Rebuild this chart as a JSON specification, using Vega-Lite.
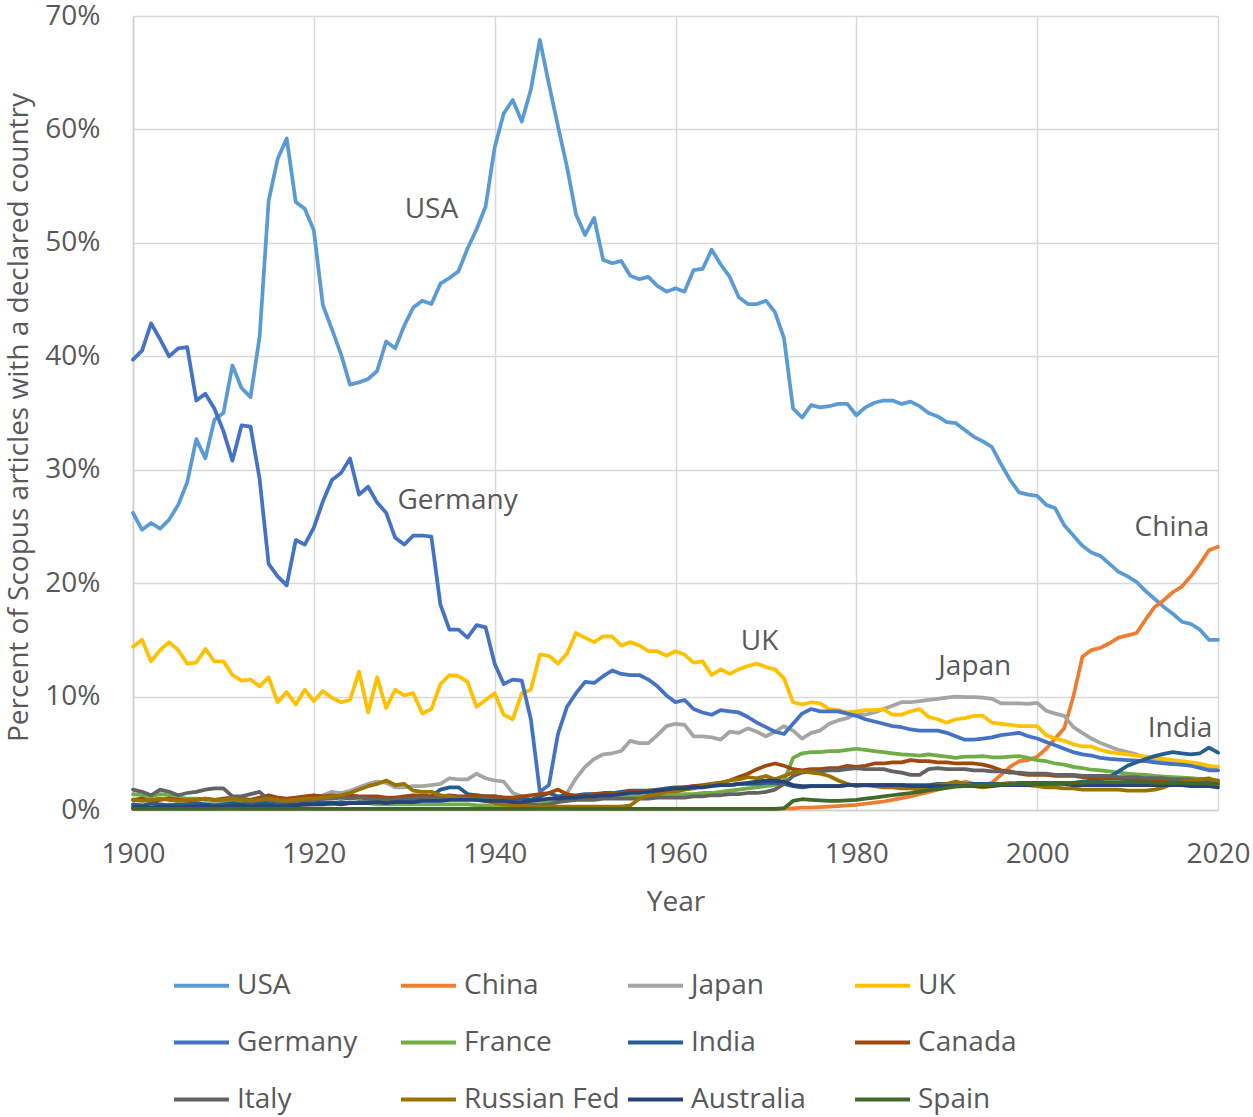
{
"$schema": "https://vega.github.io/schema/vega-lite/v6.json",
"width": 1085, "height": 794,
"autosize": {"type": "none"},
"padding": {"left": 133, "top": 16, "right": 35, "bottom": 307},
"background": "white",
"config": {
  "font": "Open Sans",
  "view": {"stroke": null},
  "axis": {"labelFont": "Open Sans", "labelFontSize": 28, "labelColor": "#595959", "titleFont": "Open Sans", "titleFontSize": 28, "titleFontWeight": "normal", "titleColor": "#595959", "gridColor": "#D9D9D9", "gridWidth": 1.5, "domainColor": "#D0D0D0", "domainWidth": 1.5, "ticks": false, "tickSize": 0, "labelFlush": false}
},
"layer": [
{
"data": {"values": [
{"Year":1900,"USA":26.2,"China":0.1,"Japan":0.4,"UK":14.4,"Germany":39.7,"France":1.4,"India":0.5,"Canada":0.9,"Italy":1.8,"Russian Fed":0.9,"Australia":0.2,"Spain":0.1},
{"Year":1901,"USA":24.7,"China":0.1,"Japan":0.3,"UK":15.0,"Germany":40.5,"France":1.3,"India":0.4,"Canada":1.0,"Italy":1.6,"Russian Fed":0.8,"Australia":0.3,"Spain":0.1},
{"Year":1902,"USA":25.3,"China":0.1,"Japan":0.4,"UK":13.1,"Germany":42.9,"France":1.2,"India":0.6,"Canada":0.8,"Italy":1.3,"Russian Fed":0.9,"Australia":0.2,"Spain":0.1},
{"Year":1903,"USA":24.8,"China":0.1,"Japan":0.3,"UK":14.1,"Germany":41.5,"France":1.4,"India":0.5,"Canada":0.9,"Italy":1.8,"Russian Fed":1.0,"Australia":0.3,"Spain":0.1},
{"Year":1904,"USA":25.6,"China":0.1,"Japan":0.5,"UK":14.8,"Germany":40.0,"France":1.3,"India":0.4,"Canada":1.0,"Italy":1.6,"Russian Fed":0.9,"Australia":0.3,"Spain":0.1},
{"Year":1905,"USA":26.9,"China":0.1,"Japan":0.4,"UK":14.1,"Germany":40.7,"France":1.1,"India":0.5,"Canada":0.9,"Italy":1.3,"Russian Fed":0.8,"Australia":0.2,"Spain":0.1},
{"Year":1906,"USA":28.9,"China":0.1,"Japan":0.5,"UK":12.9,"Germany":40.8,"France":1.0,"India":0.5,"Canada":0.8,"Italy":1.5,"Russian Fed":0.9,"Australia":0.3,"Spain":0.1},
{"Year":1907,"USA":32.7,"China":0.1,"Japan":0.4,"UK":13.0,"Germany":36.1,"France":1.0,"India":0.6,"Canada":0.9,"Italy":1.6,"Russian Fed":0.9,"Australia":0.3,"Spain":0.1},
{"Year":1908,"USA":31.0,"China":0.1,"Japan":0.5,"UK":14.2,"Germany":36.7,"France":0.9,"India":0.5,"Canada":1.0,"Italy":1.8,"Russian Fed":1.0,"Australia":0.4,"Spain":0.1},
{"Year":1909,"USA":34.4,"China":0.1,"Japan":0.6,"UK":13.1,"Germany":35.4,"France":0.9,"India":0.4,"Canada":0.9,"Italy":1.9,"Russian Fed":0.9,"Australia":0.3,"Spain":0.1},
{"Year":1910,"USA":35.0,"China":0.2,"Japan":0.5,"UK":13.1,"Germany":33.4,"France":0.8,"India":0.5,"Canada":1.0,"Italy":1.9,"Russian Fed":0.9,"Australia":0.3,"Spain":0.1},
{"Year":1911,"USA":39.2,"China":0.2,"Japan":0.6,"UK":11.9,"Germany":30.8,"France":0.8,"India":0.6,"Canada":1.1,"Italy":1.2,"Russian Fed":1.0,"Australia":0.4,"Spain":0.1},
{"Year":1912,"USA":37.2,"China":0.1,"Japan":0.5,"UK":11.4,"Germany":33.9,"France":0.7,"India":0.5,"Canada":1.0,"Italy":1.2,"Russian Fed":0.9,"Australia":0.4,"Spain":0.1},
{"Year":1913,"USA":36.4,"China":0.1,"Japan":0.6,"UK":11.5,"Germany":33.8,"France":0.7,"India":0.6,"Canada":0.9,"Italy":1.4,"Russian Fed":0.8,"Australia":0.3,"Spain":0.1},
{"Year":1914,"USA":41.7,"China":0.1,"Japan":0.7,"UK":10.9,"Germany":29.2,"France":0.6,"India":0.7,"Canada":1.1,"Italy":1.6,"Russian Fed":0.9,"Australia":0.4,"Spain":0.1},
{"Year":1915,"USA":53.7,"China":0.1,"Japan":0.5,"UK":11.7,"Germany":21.7,"France":0.5,"India":0.6,"Canada":1.3,"Italy":0.9,"Russian Fed":1.0,"Australia":0.4,"Spain":0.1},
{"Year":1916,"USA":57.4,"China":0.1,"Japan":0.6,"UK":9.5,"Germany":20.6,"France":0.4,"India":0.5,"Canada":1.1,"Italy":0.8,"Russian Fed":0.9,"Australia":0.3,"Spain":0.1},
{"Year":1917,"USA":59.2,"China":0.1,"Japan":0.7,"UK":10.4,"Germany":19.8,"France":0.4,"India":0.4,"Canada":1.0,"Italy":0.7,"Russian Fed":0.8,"Australia":0.4,"Spain":0.1},
{"Year":1918,"USA":53.6,"China":0.1,"Japan":0.8,"UK":9.3,"Germany":23.8,"France":0.4,"India":0.5,"Canada":1.1,"Italy":0.8,"Russian Fed":0.9,"Australia":0.4,"Spain":0.1},
{"Year":1919,"USA":53.0,"China":0.2,"Japan":0.9,"UK":10.6,"Germany":23.4,"France":0.5,"India":0.6,"Canada":1.2,"Italy":0.9,"Russian Fed":1.0,"Australia":0.5,"Spain":0.1},
{"Year":1920,"USA":51.1,"China":0.1,"Japan":1.0,"UK":9.6,"Germany":24.9,"France":0.5,"India":0.6,"Canada":1.3,"Italy":0.9,"Russian Fed":1.0,"Australia":0.5,"Spain":0.1},
{"Year":1921,"USA":44.5,"China":0.1,"Japan":1.3,"UK":10.5,"Germany":27.2,"France":0.5,"India":0.7,"Canada":1.2,"Italy":1.0,"Russian Fed":1.1,"Australia":0.5,"Spain":0.1},
{"Year":1922,"USA":42.4,"China":0.1,"Japan":1.6,"UK":9.9,"Germany":29.1,"France":0.5,"India":0.6,"Canada":1.3,"Italy":1.0,"Russian Fed":1.2,"Australia":0.6,"Spain":0.1},
{"Year":1923,"USA":40.2,"China":0.1,"Japan":1.5,"UK":9.5,"Germany":29.7,"France":0.6,"India":0.7,"Canada":1.2,"Italy":1.1,"Russian Fed":1.3,"Australia":0.5,"Spain":0.1},
{"Year":1924,"USA":37.5,"China":0.1,"Japan":1.7,"UK":9.7,"Germany":31.0,"France":0.6,"India":0.6,"Canada":1.3,"Italy":1.0,"Russian Fed":1.5,"Australia":0.6,"Spain":0.1},
{"Year":1925,"USA":37.7,"China":0.1,"Japan":2.0,"UK":12.2,"Germany":27.8,"France":0.6,"India":0.7,"Canada":1.2,"Italy":1.1,"Russian Fed":1.8,"Australia":0.6,"Spain":0.1},
{"Year":1926,"USA":38.0,"China":0.1,"Japan":2.3,"UK":8.6,"Germany":28.5,"France":0.6,"India":0.7,"Canada":1.2,"Italy":1.0,"Russian Fed":2.1,"Australia":0.6,"Spain":0.1},
{"Year":1927,"USA":38.7,"China":0.1,"Japan":2.5,"UK":11.7,"Germany":27.1,"France":0.5,"India":0.8,"Canada":1.2,"Italy":0.9,"Russian Fed":2.3,"Australia":0.7,"Spain":0.1},
{"Year":1928,"USA":41.3,"China":0.1,"Japan":2.4,"UK":9.0,"Germany":26.2,"France":0.5,"India":0.8,"Canada":1.1,"Italy":0.9,"Russian Fed":2.6,"Australia":0.6,"Spain":0.1},
{"Year":1929,"USA":40.7,"China":0.1,"Japan":2.0,"UK":10.6,"Germany":24.0,"France":0.5,"India":0.9,"Canada":1.1,"Italy":0.9,"Russian Fed":2.2,"Australia":0.7,"Spain":0.1},
{"Year":1930,"USA":42.7,"China":0.1,"Japan":2.0,"UK":10.1,"Germany":23.4,"France":0.5,"India":0.9,"Canada":1.2,"Italy":1.0,"Russian Fed":2.3,"Australia":0.7,"Spain":0.1},
{"Year":1931,"USA":44.3,"China":0.1,"Japan":2.1,"UK":10.3,"Germany":24.2,"France":0.5,"India":1.0,"Canada":1.3,"Italy":1.0,"Russian Fed":1.7,"Australia":0.7,"Spain":0.1},
{"Year":1932,"USA":44.9,"China":0.1,"Japan":2.1,"UK":8.5,"Germany":24.2,"France":0.5,"India":1.1,"Canada":1.3,"Italy":1.1,"Russian Fed":1.6,"Australia":0.8,"Spain":0.1},
{"Year":1933,"USA":44.6,"China":0.1,"Japan":2.2,"UK":8.9,"Germany":24.1,"France":0.5,"India":1.2,"Canada":1.2,"Italy":1.0,"Russian Fed":1.6,"Australia":0.8,"Spain":0.1},
{"Year":1934,"USA":46.4,"China":0.1,"Japan":2.3,"UK":11.1,"Germany":18.1,"France":0.5,"India":1.8,"Canada":1.2,"Italy":1.1,"Russian Fed":1.3,"Australia":0.8,"Spain":0.1},
{"Year":1935,"USA":46.9,"China":0.1,"Japan":2.8,"UK":11.9,"Germany":15.9,"France":0.5,"India":2.0,"Canada":1.3,"Italy":1.2,"Russian Fed":1.2,"Australia":0.9,"Spain":0.1},
{"Year":1936,"USA":47.5,"China":0.1,"Japan":2.7,"UK":11.8,"Germany":15.9,"France":0.5,"India":2.0,"Canada":1.2,"Italy":1.1,"Russian Fed":1.0,"Australia":0.9,"Spain":0.1},
{"Year":1937,"USA":49.5,"China":0.1,"Japan":2.7,"UK":11.3,"Germany":15.2,"France":0.5,"India":1.4,"Canada":1.2,"Italy":1.0,"Russian Fed":1.0,"Australia":0.9,"Spain":0.1},
{"Year":1938,"USA":51.2,"China":0.1,"Japan":3.2,"UK":9.1,"Germany":16.3,"France":0.4,"India":1.3,"Canada":1.3,"Italy":1.0,"Russian Fed":0.9,"Australia":0.9,"Spain":0.1},
{"Year":1939,"USA":53.2,"China":0.1,"Japan":2.8,"UK":9.7,"Germany":16.1,"France":0.4,"India":1.2,"Canada":1.2,"Italy":1.0,"Russian Fed":0.8,"Australia":0.8,"Spain":0.1},
{"Year":1940,"USA":58.4,"China":0.1,"Japan":2.6,"UK":10.3,"Germany":12.9,"France":0.3,"India":1.2,"Canada":1.2,"Italy":0.9,"Russian Fed":0.6,"Australia":0.8,"Spain":0.1},
{"Year":1941,"USA":61.4,"China":0.1,"Japan":2.5,"UK":8.4,"Germany":11.1,"France":0.3,"India":1.1,"Canada":1.1,"Italy":0.8,"Russian Fed":0.5,"Australia":0.8,"Spain":0.1},
{"Year":1942,"USA":62.6,"China":0.1,"Japan":1.5,"UK":8.0,"Germany":11.5,"France":0.3,"India":1.0,"Canada":1.1,"Italy":0.7,"Russian Fed":0.4,"Australia":0.7,"Spain":0.1},
{"Year":1943,"USA":60.7,"China":0.1,"Japan":1.2,"UK":10.3,"Germany":11.4,"France":0.3,"India":1.0,"Canada":1.2,"Italy":0.6,"Russian Fed":0.4,"Australia":0.7,"Spain":0.1},
{"Year":1944,"USA":63.5,"China":0.1,"Japan":0.9,"UK":10.6,"Germany":8.0,"France":0.3,"India":0.9,"Canada":1.3,"Italy":0.5,"Russian Fed":0.3,"Australia":0.8,"Spain":0.1},
{"Year":1945,"USA":67.9,"China":0.2,"Japan":0.6,"UK":13.7,"Germany":1.6,"France":0.5,"India":1.2,"Canada":1.4,"Italy":0.4,"Russian Fed":0.3,"Australia":0.9,"Spain":0.1},
{"Year":1946,"USA":64.0,"China":0.2,"Japan":0.5,"UK":13.6,"Germany":2.2,"France":0.8,"India":1.5,"Canada":1.5,"Italy":0.5,"Russian Fed":0.3,"Australia":1.0,"Spain":0.1},
{"Year":1947,"USA":60.3,"China":0.2,"Japan":0.8,"UK":12.9,"Germany":6.7,"France":0.9,"India":1.2,"Canada":1.8,"Italy":0.7,"Russian Fed":0.3,"Australia":1.0,"Spain":0.1},
{"Year":1948,"USA":56.7,"China":0.2,"Japan":1.5,"UK":13.8,"Germany":9.1,"France":0.9,"India":1.3,"Canada":1.4,"Italy":0.8,"Russian Fed":0.3,"Australia":1.1,"Spain":0.1},
{"Year":1949,"USA":52.5,"China":0.1,"Japan":2.8,"UK":15.6,"Germany":10.3,"France":1.0,"India":1.3,"Canada":1.2,"Italy":0.9,"Russian Fed":0.3,"Australia":1.1,"Spain":0.1},
{"Year":1950,"USA":50.7,"China":0.1,"Japan":3.8,"UK":15.2,"Germany":11.3,"France":1.0,"India":1.4,"Canada":1.3,"Italy":0.9,"Russian Fed":0.3,"Australia":1.2,"Spain":0.1},
{"Year":1951,"USA":52.2,"China":0.1,"Japan":4.5,"UK":14.8,"Germany":11.2,"France":1.1,"India":1.4,"Canada":1.4,"Italy":0.9,"Russian Fed":0.3,"Australia":1.2,"Spain":0.1},
{"Year":1952,"USA":48.5,"China":0.1,"Japan":4.9,"UK":15.3,"Germany":11.8,"France":1.1,"India":1.5,"Canada":1.4,"Italy":1.0,"Russian Fed":0.3,"Australia":1.3,"Spain":0.1},
{"Year":1953,"USA":48.2,"China":0.1,"Japan":5.0,"UK":15.3,"Germany":12.3,"France":1.1,"India":1.5,"Canada":1.5,"Italy":1.0,"Russian Fed":0.3,"Australia":1.3,"Spain":0.1},
{"Year":1954,"USA":48.4,"China":0.1,"Japan":5.2,"UK":14.5,"Germany":12.0,"France":1.2,"India":1.6,"Canada":1.5,"Italy":1.0,"Russian Fed":0.3,"Australia":1.4,"Spain":0.1},
{"Year":1955,"USA":47.1,"China":0.1,"Japan":6.1,"UK":14.8,"Germany":11.9,"France":1.2,"India":1.7,"Canada":1.6,"Italy":1.0,"Russian Fed":0.4,"Australia":1.5,"Spain":0.1},
{"Year":1956,"USA":46.8,"China":0.1,"Japan":5.9,"UK":14.5,"Germany":11.9,"France":1.2,"India":1.7,"Canada":1.6,"Italy":1.0,"Russian Fed":1.0,"Australia":1.5,"Spain":0.1},
{"Year":1957,"USA":47.0,"China":0.1,"Japan":5.9,"UK":14.0,"Germany":11.5,"France":1.2,"India":1.7,"Canada":1.7,"Italy":1.0,"Russian Fed":1.3,"Australia":1.6,"Spain":0.1},
{"Year":1958,"USA":46.2,"China":0.1,"Japan":6.6,"UK":14.0,"Germany":10.9,"France":1.3,"India":1.8,"Canada":1.7,"Italy":1.1,"Russian Fed":1.4,"Australia":1.7,"Spain":0.1},
{"Year":1959,"USA":45.7,"China":0.1,"Japan":7.4,"UK":13.6,"Germany":10.1,"France":1.3,"India":1.9,"Canada":1.8,"Italy":1.1,"Russian Fed":1.6,"Australia":1.8,"Spain":0.1},
{"Year":1960,"USA":46.0,"China":0.1,"Japan":7.6,"UK":14.0,"Germany":9.5,"France":1.3,"India":2.0,"Canada":1.9,"Italy":1.1,"Russian Fed":1.6,"Australia":1.9,"Spain":0.1},
{"Year":1961,"USA":45.7,"China":0.1,"Japan":7.5,"UK":13.7,"Germany":9.7,"France":1.4,"India":2.0,"Canada":2.0,"Italy":1.1,"Russian Fed":1.8,"Australia":1.9,"Spain":0.1},
{"Year":1962,"USA":47.6,"China":0.1,"Japan":6.5,"UK":13.0,"Germany":8.9,"France":1.4,"India":2.1,"Canada":2.1,"Italy":1.2,"Russian Fed":1.9,"Australia":2.0,"Spain":0.1},
{"Year":1963,"USA":47.7,"China":0.1,"Japan":6.5,"UK":13.1,"Germany":8.6,"France":1.5,"India":2.1,"Canada":2.2,"Italy":1.2,"Russian Fed":2.1,"Australia":2.0,"Spain":0.1},
{"Year":1964,"USA":49.4,"China":0.1,"Japan":6.4,"UK":11.9,"Germany":8.4,"France":1.5,"India":2.2,"Canada":2.3,"Italy":1.3,"Russian Fed":2.3,"Australia":2.1,"Spain":0.1},
{"Year":1965,"USA":48.1,"China":0.1,"Japan":6.2,"UK":12.4,"Germany":8.8,"France":1.6,"India":2.2,"Canada":2.4,"Italy":1.3,"Russian Fed":2.4,"Australia":2.2,"Spain":0.1},
{"Year":1966,"USA":47.0,"China":0.1,"Japan":6.9,"UK":12.0,"Germany":8.7,"France":1.7,"India":2.2,"Canada":2.6,"Italy":1.4,"Russian Fed":2.6,"Australia":2.2,"Spain":0.1},
{"Year":1967,"USA":45.2,"China":0.1,"Japan":6.8,"UK":12.4,"Germany":8.6,"France":1.8,"India":2.3,"Canada":2.9,"Italy":1.4,"Russian Fed":2.7,"Australia":2.3,"Spain":0.1},
{"Year":1968,"USA":44.6,"China":0.1,"Japan":7.2,"UK":12.7,"Germany":8.2,"France":1.9,"India":2.3,"Canada":3.2,"Italy":1.5,"Russian Fed":2.9,"Australia":2.4,"Spain":0.1},
{"Year":1969,"USA":44.6,"China":0.1,"Japan":6.9,"UK":12.9,"Germany":7.7,"France":2.0,"India":2.3,"Canada":3.6,"Italy":1.5,"Russian Fed":2.8,"Australia":2.5,"Spain":0.1},
{"Year":1970,"USA":44.9,"China":0.1,"Japan":6.5,"UK":12.6,"Germany":7.3,"France":2.1,"India":2.4,"Canada":3.9,"Italy":1.6,"Russian Fed":3.0,"Australia":2.6,"Spain":0.1},
{"Year":1971,"USA":43.9,"China":0.1,"Japan":6.9,"UK":12.4,"Germany":6.9,"France":2.2,"India":2.4,"Canada":4.1,"Italy":1.8,"Russian Fed":2.7,"Australia":2.6,"Spain":0.1},
{"Year":1972,"USA":41.6,"China":0.15,"Japan":7.4,"UK":11.6,"Germany":6.7,"France":2.5,"India":2.3,"Canada":3.9,"Italy":2.3,"Russian Fed":3.0,"Australia":2.5,"Spain":0.15},
{"Year":1973,"USA":35.4,"China":0.15,"Japan":7.0,"UK":9.5,"Germany":7.6,"France":4.6,"India":2.1,"Canada":3.6,"Italy":3.0,"Russian Fed":3.3,"Australia":2.2,"Spain":0.8},
{"Year":1974,"USA":34.6,"China":0.2,"Japan":6.3,"UK":9.3,"Germany":8.5,"France":5.0,"India":2.0,"Canada":3.5,"Italy":3.3,"Russian Fed":3.4,"Australia":2.1,"Spain":0.95},
{"Year":1975,"USA":35.7,"China":0.2,"Japan":6.8,"UK":9.5,"Germany":8.9,"France":5.1,"India":2.1,"Canada":3.6,"Italy":3.4,"Russian Fed":3.3,"Australia":2.1,"Spain":0.9},
{"Year":1976,"USA":35.5,"China":0.25,"Japan":7.0,"UK":9.4,"Germany":8.7,"France":5.1,"India":2.1,"Canada":3.6,"Italy":3.4,"Russian Fed":3.2,"Australia":2.1,"Spain":0.85},
{"Year":1977,"USA":35.6,"China":0.3,"Japan":7.6,"UK":8.9,"Germany":8.7,"France":5.2,"India":2.1,"Canada":3.7,"Italy":3.5,"Russian Fed":3.0,"Australia":2.1,"Spain":0.8},
{"Year":1978,"USA":35.8,"China":0.35,"Japan":7.9,"UK":8.8,"Germany":8.7,"France":5.2,"India":2.1,"Canada":3.7,"Italy":3.5,"Russian Fed":2.6,"Australia":2.1,"Spain":0.8},
{"Year":1979,"USA":35.8,"China":0.4,"Japan":8.1,"UK":8.6,"Germany":8.5,"France":5.3,"India":2.2,"Canada":3.9,"Italy":3.6,"Russian Fed":2.3,"Australia":2.2,"Spain":0.85},
{"Year":1980,"USA":34.8,"China":0.45,"Japan":8.5,"UK":8.7,"Germany":8.3,"France":5.4,"India":2.2,"Canada":3.8,"Italy":3.7,"Russian Fed":2.1,"Australia":2.2,"Spain":0.9},
{"Year":1981,"USA":35.5,"China":0.55,"Japan":8.4,"UK":8.8,"Germany":8.0,"France":5.3,"India":2.2,"Canada":3.9,"Italy":3.6,"Russian Fed":2.2,"Australia":2.2,"Spain":1.0},
{"Year":1982,"USA":35.9,"China":0.65,"Japan":8.6,"UK":8.8,"Germany":7.8,"France":5.2,"India":2.2,"Canada":4.1,"Italy":3.6,"Russian Fed":2.1,"Australia":2.2,"Spain":1.1},
{"Year":1983,"USA":36.1,"China":0.75,"Japan":8.9,"UK":8.9,"Germany":7.6,"France":5.1,"India":2.2,"Canada":4.1,"Italy":3.6,"Russian Fed":2.0,"Australia":2.2,"Spain":1.2},
{"Year":1984,"USA":36.1,"China":0.9,"Japan":9.2,"UK":8.4,"Germany":7.4,"France":5.0,"India":2.2,"Canada":4.2,"Italy":3.4,"Russian Fed":2.0,"Australia":2.2,"Spain":1.3},
{"Year":1985,"USA":35.8,"China":1.05,"Japan":9.5,"UK":8.4,"Germany":7.3,"France":4.9,"India":2.2,"Canada":4.2,"Italy":3.3,"Russian Fed":1.9,"Australia":2.2,"Spain":1.4},
{"Year":1986,"USA":36.0,"China":1.2,"Japan":9.5,"UK":8.7,"Germany":7.1,"France":4.85,"India":2.2,"Canada":4.4,"Italy":3.1,"Russian Fed":1.9,"Australia":2.1,"Spain":1.5},
{"Year":1987,"USA":35.6,"China":1.4,"Japan":9.6,"UK":8.9,"Germany":7.0,"France":4.8,"India":2.2,"Canada":4.3,"Italy":3.1,"Russian Fed":1.8,"Australia":2.1,"Spain":1.6},
{"Year":1988,"USA":35.0,"China":1.6,"Japan":9.7,"UK":8.2,"Germany":7.0,"France":4.9,"India":2.2,"Canada":4.3,"Italy":3.6,"Russian Fed":1.9,"Australia":2.1,"Spain":1.75},
{"Year":1989,"USA":34.7,"China":1.8,"Japan":9.8,"UK":8.0,"Germany":7.0,"France":4.8,"India":2.3,"Canada":4.2,"Italy":3.7,"Russian Fed":2.2,"Australia":2.1,"Spain":1.85},
{"Year":1990,"USA":34.2,"China":2.0,"Japan":9.9,"UK":7.7,"Germany":6.8,"France":4.7,"India":2.3,"Canada":4.2,"Italy":3.6,"Russian Fed":2.3,"Australia":2.1,"Spain":1.95},
{"Year":1991,"USA":34.1,"China":2.2,"Japan":10.0,"UK":8.0,"Germany":6.5,"France":4.6,"India":2.3,"Canada":4.1,"Italy":3.6,"Russian Fed":2.5,"Australia":2.1,"Spain":2.05},
{"Year":1992,"USA":33.5,"China":2.5,"Japan":9.95,"UK":8.1,"Germany":6.2,"France":4.7,"India":2.3,"Canada":4.1,"Italy":3.6,"Russian Fed":2.3,"Australia":2.1,"Spain":2.1},
{"Year":1993,"USA":32.9,"China":2.3,"Japan":9.95,"UK":8.3,"Germany":6.2,"France":4.7,"India":2.3,"Canada":4.1,"Italy":3.5,"Russian Fed":2.1,"Australia":2.1,"Spain":2.15},
{"Year":1994,"USA":32.5,"China":2.2,"Japan":9.9,"UK":8.3,"Germany":6.3,"France":4.75,"India":2.3,"Canada":4.0,"Italy":3.5,"Russian Fed":2.0,"Australia":2.1,"Spain":2.2},
{"Year":1995,"USA":32.0,"China":2.4,"Japan":9.8,"UK":7.7,"Germany":6.4,"France":4.65,"India":2.3,"Canada":3.8,"Italy":3.4,"Russian Fed":2.1,"Australia":2.1,"Spain":2.2},
{"Year":1996,"USA":30.5,"China":3.1,"Japan":9.4,"UK":7.6,"Germany":6.6,"France":4.65,"India":2.3,"Canada":3.5,"Italy":3.4,"Russian Fed":2.3,"Australia":2.2,"Spain":2.25},
{"Year":1997,"USA":29.1,"China":3.8,"Japan":9.4,"UK":7.5,"Germany":6.7,"France":4.7,"India":2.3,"Canada":3.4,"Italy":3.3,"Russian Fed":2.4,"Australia":2.2,"Spain":2.25},
{"Year":1998,"USA":28.0,"China":4.3,"Japan":9.4,"UK":7.4,"Germany":6.8,"France":4.75,"India":2.4,"Canada":3.2,"Italy":3.3,"Russian Fed":2.3,"Australia":2.2,"Spain":2.3},
{"Year":1999,"USA":27.8,"China":4.4,"Japan":9.35,"UK":7.4,"Germany":6.5,"France":4.6,"India":2.4,"Canada":3.1,"Italy":3.2,"Russian Fed":2.2,"Australia":2.2,"Spain":2.3},
{"Year":2000,"USA":27.7,"China":4.7,"Japan":9.45,"UK":7.4,"Germany":6.3,"France":4.4,"India":2.4,"Canada":3.1,"Italy":3.2,"Russian Fed":2.1,"Australia":2.3,"Spain":2.3},
{"Year":2001,"USA":26.9,"China":5.4,"Japan":8.75,"UK":6.6,"Germany":6.0,"France":4.3,"India":2.4,"Canada":3.1,"Italy":3.2,"Russian Fed":2.0,"Australia":2.3,"Spain":2.35},
{"Year":2002,"USA":26.6,"China":6.3,"Japan":8.5,"UK":6.3,"Germany":5.7,"France":4.1,"India":2.4,"Canada":3.0,"Italy":3.1,"Russian Fed":2.0,"Australia":2.3,"Spain":2.35},
{"Year":2003,"USA":25.1,"China":7.2,"Japan":8.3,"UK":6.1,"Germany":5.4,"France":4.0,"India":2.4,"Canada":3.0,"Italy":3.1,"Russian Fed":1.9,"Australia":2.3,"Spain":2.4},
{"Year":2004,"USA":24.2,"China":10.0,"Japan":7.3,"UK":5.8,"Germany":5.1,"France":3.8,"India":2.4,"Canada":3.0,"Italy":3.1,"Russian Fed":1.9,"Australia":2.2,"Spain":2.4},
{"Year":2005,"USA":23.3,"China":13.5,"Japan":6.8,"UK":5.6,"Germany":4.9,"France":3.7,"India":2.5,"Canada":2.9,"Italy":3.0,"Russian Fed":1.8,"Australia":2.2,"Spain":2.4},
{"Year":2006,"USA":22.7,"China":14.1,"Japan":6.3,"UK":5.6,"Germany":4.8,"France":3.55,"India":2.6,"Canada":2.9,"Italy":3.0,"Russian Fed":1.8,"Australia":2.2,"Spain":2.45},
{"Year":2007,"USA":22.4,"China":14.3,"Japan":5.9,"UK":5.3,"Germany":4.6,"France":3.5,"India":2.7,"Canada":2.8,"Italy":3.0,"Russian Fed":1.8,"Australia":2.2,"Spain":2.45},
{"Year":2008,"USA":21.7,"China":14.7,"Japan":5.6,"UK":5.1,"Germany":4.5,"France":3.4,"India":2.9,"Canada":2.8,"Italy":3.0,"Russian Fed":1.8,"Australia":2.2,"Spain":2.45},
{"Year":2009,"USA":21.0,"China":15.2,"Japan":5.3,"UK":5.0,"Germany":4.45,"France":3.3,"India":3.4,"Canada":2.8,"Italy":2.9,"Russian Fed":1.8,"Australia":2.2,"Spain":2.45},
{"Year":2010,"USA":20.6,"China":15.4,"Japan":5.1,"UK":4.9,"Germany":4.4,"France":3.2,"India":3.9,"Canada":2.7,"Italy":2.9,"Russian Fed":1.7,"Australia":2.2,"Spain":2.45},
{"Year":2011,"USA":20.1,"China":15.6,"Japan":4.9,"UK":4.8,"Germany":4.35,"France":3.15,"India":4.2,"Canada":2.7,"Italy":2.9,"Russian Fed":1.7,"Australia":2.2,"Spain":2.45},
{"Year":2012,"USA":19.3,"China":16.8,"Japan":4.6,"UK":4.7,"Germany":4.3,"France":3.1,"India":4.5,"Canada":2.7,"Italy":2.8,"Russian Fed":1.7,"Australia":2.2,"Spain":2.45},
{"Year":2013,"USA":18.6,"China":17.9,"Japan":4.4,"UK":4.6,"Germany":4.2,"France":3.0,"India":4.75,"Canada":2.6,"Italy":2.8,"Russian Fed":1.8,"Australia":2.2,"Spain":2.4},
{"Year":2014,"USA":17.9,"China":18.5,"Japan":4.25,"UK":4.5,"Germany":4.1,"France":2.95,"India":4.95,"Canada":2.6,"Italy":2.8,"Russian Fed":2.0,"Australia":2.2,"Spain":2.4},
{"Year":2015,"USA":17.3,"China":19.2,"Japan":4.1,"UK":4.4,"Germany":4.05,"France":2.9,"India":5.1,"Canada":2.5,"Italy":2.7,"Russian Fed":2.3,"Australia":2.2,"Spain":2.4},
{"Year":2016,"USA":16.6,"China":19.7,"Japan":4.0,"UK":4.3,"Germany":4.0,"France":2.85,"India":5.0,"Canada":2.5,"Italy":2.7,"Russian Fed":2.5,"Australia":2.2,"Spain":2.4},
{"Year":2017,"USA":16.4,"China":20.6,"Japan":3.9,"UK":4.2,"Germany":3.9,"France":2.8,"India":4.9,"Canada":2.4,"Italy":2.7,"Russian Fed":2.6,"Australia":2.1,"Spain":2.35},
{"Year":2018,"USA":15.9,"China":21.7,"Japan":3.8,"UK":4.1,"Germany":3.7,"France":2.75,"India":5.0,"Canada":2.4,"Italy":2.6,"Russian Fed":2.7,"Australia":2.1,"Spain":2.35},
{"Year":2019,"USA":15.0,"China":22.9,"Japan":3.7,"UK":3.9,"Germany":3.5,"France":2.7,"India":5.5,"Canada":2.3,"Italy":2.6,"Russian Fed":2.8,"Australia":2.1,"Spain":2.3},
{"Year":2020,"USA":15.0,"China":23.2,"Japan":3.5,"UK":3.8,"Germany":3.5,"France":2.6,"India":5.05,"Canada":2.3,"Italy":2.6,"Russian Fed":2.5,"Australia":2.0,"Spain":2.3}
]},
"transform": [{"fold": ["USA","China","Japan","UK","Germany","France","India","Canada","Italy","Russian Fed","Australia","Spain"], "as": ["country","value"]}],
"mark": {"type": "line", "strokeWidth": 3.75, "strokeJoin": "round", "strokeCap": "round"},
"encoding": {
  "x": {"field": "Year", "type": "quantitative", "title": "Year",
        "scale": {"domain": [1900, 2020], "nice": false, "zero": false},
        "axis": {"values": [1900,1920,1940,1960,1980,2000,2020], "format": "d", "labelPadding": 30, "labelFlush": false, "labelOverlap": false, "titleX": 542.5, "titleY": 92, "titleBaseline": "middle", "titleAlign": "center"}},
  "y": {"field": "value", "type": "quantitative", "title": "Percent of Scopus articles with a declared country",
        "scale": {"domain": [0, 70], "nice": false},
        "axis": {"values": [0,10,20,30,40,50,60,70], "labelExpr": "datum.value + '%'", "labelPadding": 33, "labelFlush": false, "titleX": -114, "titleY": 401, "titleAngle": -90, "titleBaseline": "middle", "titleAlign": "center"}},
  "color": {"field": "country", "type": "nominal",
        "scale": {"domain": ["USA","China","Japan","UK","Germany","France","India","Canada","Italy","Russian Fed","Australia","Spain"],
                  "range": ["#5B9BD5","#ED7D31","#A5A5A5","#FFC000","#4472C4","#70AD47","#255E91","#9E480E","#636363","#997300","#264478","#43682B"]},
        "legend": {"title": null, "orient": "none", "legendX": 39, "legendY": 940, "columns": 4, "direction": "horizontal",
                   "symbolType": "stroke", "symbolSize": 3025, "symbolStrokeWidth": 4,
                   "labelFont": "Open Sans", "labelFontSize": 28, "labelColor": "#595959", "labelOffset": 6, "labelLimit": 400,
                   "columnPadding": 0, "rowPadding": 13, "gridAlign": "all"}}
}
},
{
"data": {"values": [
  {"label": "USA", "Year": 1933.0, "value": 52.9},
  {"label": "Germany", "Year": 1935.9, "value": 27.2},
  {"label": "UK", "Year": 1969.3, "value": 14.85},
  {"label": "Japan", "Year": 1993.1, "value": 12.64},
  {"label": "China", "Year": 2014.9, "value": 24.9},
  {"label": "India", "Year": 2015.8, "value": 7.1}
]},
"mark": {"type": "text", "font": "Open Sans", "fontSize": 28, "color": "#595959", "align": "center", "baseline": "middle"},
"encoding": {
  "x": {"field": "Year", "type": "quantitative", "title": "Year"},
  "y": {"field": "value", "type": "quantitative", "title": "Percent of Scopus articles with a declared country"},
  "text": {"field": "label"}
}
}
]
}
